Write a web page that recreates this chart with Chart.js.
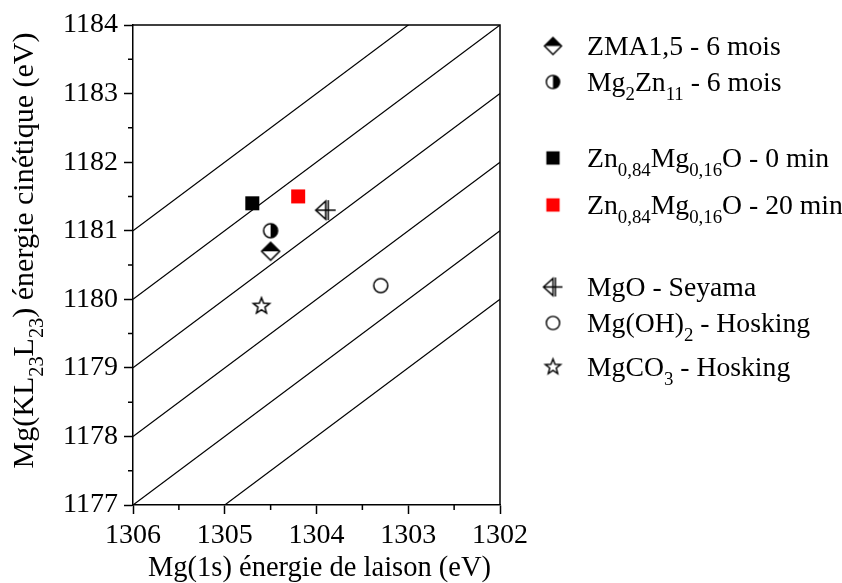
<!DOCTYPE html>
<html>
<head>
<meta charset="utf-8">
<script src="https://cdn.jsdelivr.net/npm/chart.js@4.4.0/dist/chart.umd.min.js"></script>
<style>
  html, body { margin: 0; padding: 0; background: #fff; }
  #wrap { width: 842px; height: 583px; position: relative; }
</style>
</head>
<body>
<div id="wrap"><canvas id="chart"></canvas></div>
<script>
const X_MIN = 1302;
const X_MAX = 1306;
const Y_MIN = 1177;
const Y_MAX = 1184;
const xTicks = [1306, 1305, 1304, 1303, 1302];
const yTicks = [1177, 1178, 1179, 1180, 1181, 1182, 1183, 1184];
const xMinorTicks = [1305.5, 1304.5, 1303.5, 1302.5];
const yMinorTicks = [1177.5, 1178.5, 1179.5, 1180.5, 1181.5, 1182.5, 1183.5];

// Auger parameter lines : BE + KE = constant
const augerSums = [2482, 2483, 2484, 2485, 2486, 2487];

const sampleLabels = [
  "ZMA1,5 - 6 mois",
  "Mg_{2}Zn_{11} - 6 mois",
  "Zn_{0,84}Mg_{0,16}O - 0 min",
  "Zn_{0,84}Mg_{0,16}O - 20 min",
  "MgO - Seyama",
  "Mg(OH)_{2} - Hosking",
  "MgCO_{3} - Hosking",
];
const sampleBE = [1304.5, 1304.5, 1304.7, 1304.2, 1303.9, 1303.3, 1304.6];
const sampleKE = [1180.7, 1181.0, 1181.4, 1181.5, 1181.3, 1180.2, 1179.9];
const sampleMarkers = ["halfDiamond", "halfCircle", "square", "squareRed", "triCross", "circle", "star"];

// legend row centres (px)
const legendRows = [46, 82, 158, 205, 287, 323, 367];

const FONT = "'Liberation Serif', 'Times New Roman', serif";
const FONT_SIZE = 28;

function makeMarker(kind, scale = 1) {
  const c = document.createElement("canvas");
  const s = Math.round(26 * scale);
  c.width = s;
  c.height = s;
  const ctx = c.getContext("2d");
  ctx.translate(s / 2, s / 2);
  ctx.scale(scale, scale);
  ctx.lineWidth = 1.5;
  ctx.strokeStyle = "#000";
  ctx.fillStyle = "#000";

  if (kind === "halfDiamond") {
    const r = 9;
    ctx.beginPath();
    ctx.moveTo(0, -r); ctx.lineTo(r, 0); ctx.lineTo(0, r); ctx.lineTo(-r, 0); ctx.closePath();
    ctx.fillStyle = "#fff";
    ctx.fill();
    ctx.beginPath();
    ctx.moveTo(0, -r); ctx.lineTo(r, 0); ctx.lineTo(-r, 0); ctx.closePath();
    ctx.fillStyle = "#000";
    ctx.fill();
    ctx.beginPath();
    ctx.moveTo(0, -r); ctx.lineTo(r, 0); ctx.lineTo(0, r); ctx.lineTo(-r, 0); ctx.closePath();
    ctx.stroke();
  } else if (kind === "halfCircle") {
    const r = 7;
    ctx.beginPath();
    ctx.arc(0, 0, r, 0, Math.PI * 2);
    ctx.fillStyle = "#fff";
    ctx.fill();
    ctx.beginPath();
    ctx.arc(0, 0, r, -Math.PI / 2, Math.PI / 2);
    ctx.closePath();
    ctx.fillStyle = "#000";
    ctx.fill();
    ctx.beginPath();
    ctx.arc(0, 0, r, 0, Math.PI * 2);
    ctx.stroke();
  } else if (kind === "square" || kind === "squareRed") {
    ctx.fillStyle = kind === "square" ? "#000" : "#ff0000";
    ctx.fillRect(-7, -7, 14, 14);
  } else if (kind === "triCross") {
    ctx.beginPath();
    ctx.moveTo(-10, 0); ctx.lineTo(0, -9); ctx.lineTo(0, 9); ctx.closePath();
    ctx.stroke();
    ctx.beginPath();
    ctx.moveTo(-10, 0); ctx.lineTo(10, 0);
    ctx.moveTo(2.5, -10); ctx.lineTo(2.5, 10);
    ctx.stroke();
  } else if (kind === "circle") {
    ctx.beginPath();
    ctx.arc(0, 0, 7, 0, Math.PI * 2);
    ctx.stroke();
  } else if (kind === "star") {
    ctx.beginPath();
    for (let i = 0; i < 10; i++) {
      const r = i % 2 === 0 ? 8.5 : 3.6;
      const a = -Math.PI / 2 + (i * Math.PI) / 5;
      const px = r * Math.cos(a);
      const py = r * Math.sin(a);
      if (i === 0) ctx.moveTo(px, py); else ctx.lineTo(px, py);
    }
    ctx.closePath();
    ctx.stroke();
  }
  return c;
}

function parseRich(text) {
  const parts = text.split(/_\{([^}]*)\}/);
  return parts.map((t, i) => ({ text: t, sub: i % 2 === 1 })).filter((p) => p.text.length);
}

function richWidth(ctx, text, size) {
  let w = 0;
  parseRich(text).forEach((p) => {
    ctx.font = `${p.sub ? size * 0.68 : size}px ${FONT}`;
    w += ctx.measureText(p.text).width;
  });
  return w;
}

function drawRich(ctx, text, x, y, size) {
  ctx.textBaseline = "alphabetic";
  ctx.textAlign = "left";
  let cx = x;
  parseRich(text).forEach((p) => {
    ctx.font = `${p.sub ? size * 0.68 : size}px ${FONT}`;
    ctx.fillText(p.text, cx, p.sub ? y + size * 0.32 : y);
    cx += ctx.measureText(p.text).width;
  });
}

const lineDatasets = augerSums.map((s) => ({
  type: "line",
  data: [
    { x: X_MAX, y: s - X_MAX },
    { x: X_MIN, y: s - X_MIN },
  ],
  showLine: true,
  borderColor: "#000",
  borderWidth: 1.2,
  pointRadius: 0,
  fill: false,
}));

const sampleDatasets = sampleLabels.map((label, i) => ({
  label,
  data: [{ x: sampleBE[i], y: sampleKE[i] }],
  pointStyle: makeMarker(sampleMarkers[i]),
  pointRadius: 10,
}));

const legendMarkers = sampleMarkers.map((k) => makeMarker(k, 0.95));

const framePlugin = {
  id: "frame",
  afterDraw(chart) {
    const { ctx, chartArea, scales } = chart;
    ctx.save();
    ctx.strokeStyle = "#000";
    ctx.lineWidth = 1.5;
    ctx.beginPath();
    ctx.moveTo(chartArea.left, chartArea.top);
    ctx.lineTo(chartArea.right, chartArea.top);
    ctx.lineTo(chartArea.right, chartArea.bottom);
    ctx.stroke();

    // minor ticks
    ctx.beginPath();
    xMinorTicks.forEach((v) => {
      const px = scales.x.getPixelForValue(v);
      ctx.moveTo(px, chartArea.bottom);
      ctx.lineTo(px, chartArea.bottom + 5);
    });
    yMinorTicks.forEach((v) => {
      const py = scales.y.getPixelForValue(v);
      ctx.moveTo(chartArea.left, py);
      ctx.lineTo(chartArea.left - 5, py);
    });
    ctx.stroke();

    ctx.fillStyle = "#000";
    // x title
    const xTitle = "Mg(1s) énergie de laison (eV)";
    const xc = (chartArea.left + chartArea.right) / 2 + 3;
    drawRich(ctx, xTitle, xc - richWidth(ctx, xTitle, 28.5) / 2, 576, 28.5);

    // y title
    const yTitle = "Mg(KL_{23}L_{23}) énergie cinétique (eV)";
    ctx.translate(33, 250.5);
    ctx.rotate(-Math.PI / 2);
    drawRich(ctx, yTitle, -richWidth(ctx, yTitle, 30) / 2, 0, 30);
    ctx.restore();

    // legend
    ctx.save();
    ctx.fillStyle = "#000";
    sampleLabels.forEach((label, i) => {
      const yc = legendRows[i];
      const m = legendMarkers[i];
      ctx.drawImage(m, 553 - m.width / 2, yc - m.height / 2);
      drawRich(ctx, label, 587, yc + 9, 27.7);
    });
    ctx.restore();
  },
};

new Chart(document.getElementById("chart"), {
  type: "scatter",
  data: { datasets: [...lineDatasets, ...sampleDatasets] },
  options: {
    responsive: true,
    maintainAspectRatio: false,
    animation: false,
    layout: { padding: { top: 25, right: 342, left: 0, bottom: 0 } },
    plugins: {
      legend: { display: false },
      tooltip: { enabled: false },
    },
    scales: {
      x: {
        type: "linear",
        reverse: true,
        min: X_MIN,
        max: X_MAX,
        afterBuildTicks: (scale) => {
          scale.ticks = xTicks.map((v) => ({ value: v }));
        },
        afterFit: (scale) => {
          scale.height = 78;
        },
        ticks: {
          color: "#000",
          font: { family: FONT, size: FONT_SIZE },
          padding: 5,
          maxRotation: 0,
          autoSkip: false,
          callback: (v) => String(v),
        },
        grid: { drawOnChartArea: false, tickLength: 9, tickColor: "#000", tickWidth: 1.5 },
        border: { color: "#000", width: 1.5 },
      },
      y: {
        type: "linear",
        min: Y_MIN,
        max: Y_MAX,
        afterBuildTicks: (scale) => {
          scale.ticks = yTicks.map((v) => ({ value: v }));
        },
        afterFit: (scale) => {
          scale.width = 133;
        },
        ticks: {
          color: "#000",
          font: { family: FONT, size: FONT_SIZE },
          padding: 6,
          autoSkip: false,
          callback: (v) => String(v),
        },
        grid: { drawOnChartArea: false, tickLength: 9, tickColor: "#000", tickWidth: 1.5 },
        border: { color: "#000", width: 1.5 },
      },
    },
  },
  plugins: [framePlugin],
});
</script>
</body>
</html>
